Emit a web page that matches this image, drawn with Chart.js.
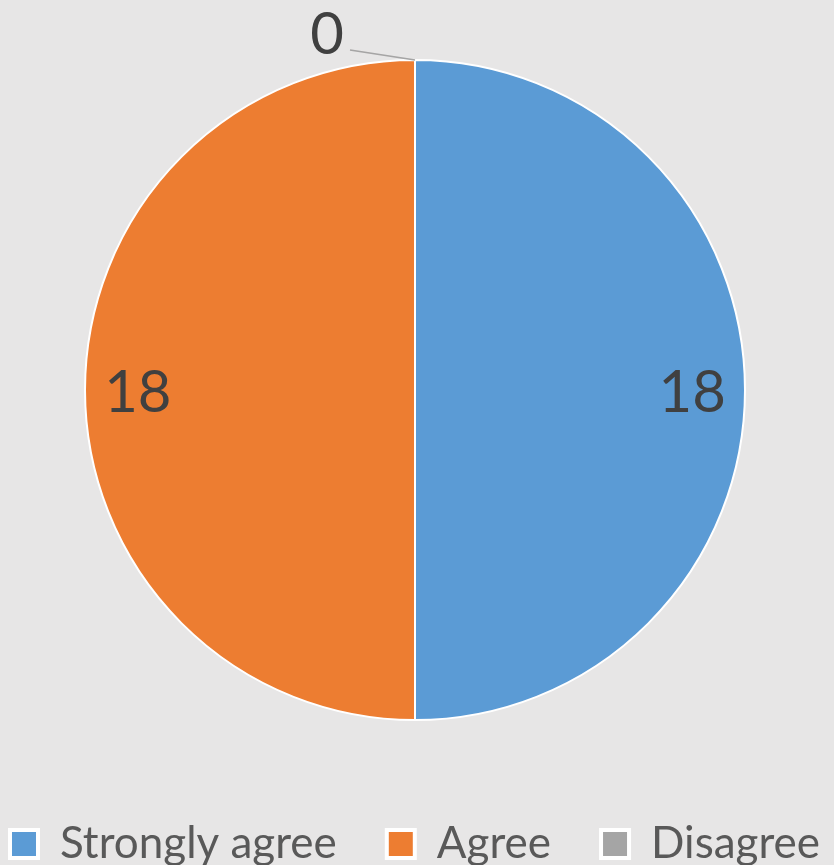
<!DOCTYPE html>
<html>
<head>
<meta charset="utf-8">
<script src="https://cdn.jsdelivr.net/npm/chart.js@4/dist/chart.umd.min.js"></script>
<style>
  html, body { margin: 0; padding: 0; background: #e7e6e6; overflow: hidden; }
  #wrap { width: 834px; height: 865px; overflow: hidden; position: relative; }
  #pie { position: absolute; left: -53px; top: 0; }
</style>
</head>
<body>
<div id="wrap"><canvas id="pie" width="940" height="876"></canvas></div>
<script>
const categories = ['Strongly agree', 'Agree', 'Disagree'];
const responses = [18, 18, 0];
const sliceColors = ['#5b9bd5', '#ed7d31', '#a5a5a5'];

const FONT = 'Lato, "Open Sans", "Liberation Sans", sans-serif';

// value labels: inside for real slices, outside with a leader line for empty ones
const valueLabels = {
  id: 'valueLabels',
  afterDatasetsDraw(chart) {
    const c = chart.ctx;
    const meta = chart.getDatasetMeta(0);
    const vals = chart.data.datasets[0].data;
    c.save();
    c.fillStyle = '#404040';
    c.font = '58px ' + FONT;
    c.textBaseline = 'middle';
    meta.data.forEach((arc, i) => {
      const p = arc.getProps(['x', 'y', 'startAngle', 'endAngle', 'outerRadius'], true);
      const mid = (p.startAngle + p.endAngle) / 2;
      if (vals[i] > 0) {
        const r = p.outerRadius * 0.84;
        c.textAlign = 'center';
        c.fillText(String(vals[i]), p.x + Math.cos(mid) * r, p.y + Math.sin(mid) * r + 3);
      } else {
        const ax = p.x + Math.cos(mid) * p.outerRadius;
        const ay = p.y + Math.sin(mid) * p.outerRadius;
        c.strokeStyle = '#a5a5a5';
        c.lineWidth = 1.5;
        c.beginPath();
        c.moveTo(ax, ay);
        c.lineTo(ax - 65, ay - 10);
        c.stroke();
        c.textAlign = 'right';
        c.fillText(String(vals[i]), ax - 71, ay - 25);
      }
    });
    c.restore();
  }
};

function draw() {
  new Chart(document.getElementById('pie'), {
    type: 'pie',
    data: {
      labels: categories,
      datasets: [{
        data: responses,
        backgroundColor: sliceColors,
        borderColor: '#ffffff',
        borderWidth: 2,
        radius: 330
      }]
    },
    options: {
      responsive: false,
      animation: false,
      layout: { padding: { top: 8, left: 0, right: 4, bottom: 0 } },
      plugins: {
        tooltip: { enabled: false },
        legend: {
          position: 'bottom',
          labels: {
            color: '#595959',
            font: { family: FONT, size: 44 },
            boxWidth: 28,
            boxHeight: 28,
            padding: 50,
            generateLabels(chart) {
              return categories.map((name, i) => ({
                text: name,
                fillStyle: sliceColors[i],
                strokeStyle: '#ffffff',
                lineWidth: 4,
                fontColor: '#595959',
                hidden: false,
                index: i
              }));
            }
          }
        }
      }
    },
    plugins: [valueLabels]
  });
}

Promise.all([
  document.fonts.load('44px Lato'),
  document.fonts.load('58px Lato')
]).then(draw, draw);
</script>
</body>
</html>
